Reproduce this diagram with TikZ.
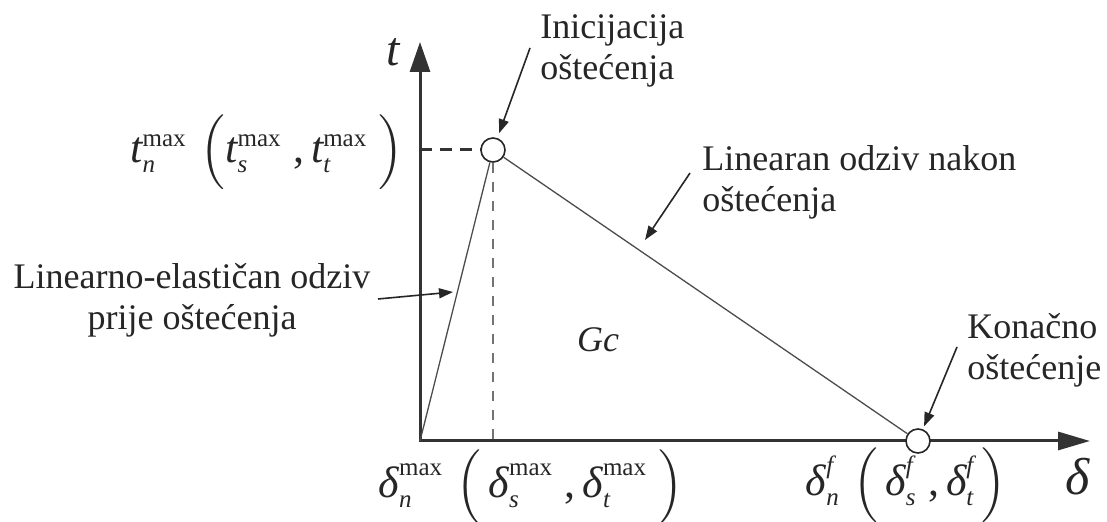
\documentclass[tikz,border=0pt]{standalone}
\usepackage{amsmath}
\usepackage{fontspec}
\setmainfont{Liberation Serif}
\usetikzlibrary{arrows.meta}
\DeclareMathSizes{22}{22}{12.5}{8}
\newcommand{\vi}[1]{\textit{#1}}
\newcommand{\tallstrut}{\vrule height 17pt depth 13pt width 0pt}
\begin{document}
\begin{tikzpicture}[x=0.5pt,y=-0.5pt,
  axis/.style={line width=1.5pt, draw=black!80, line join=miter,
    {Triangle[length=15pt,width=10pt]}-{Triangle[length=16pt,width=9pt]}},
  curve/.style={line width=0.65pt, draw=black!70},
  pt/.style={circle, draw=black!85, line width=0.8pt, fill=white, minimum size=12pt, inner sep=0pt},
  lbl/.style={font=\fontsize{18}{20.5}\selectfont, text=black!85, inner sep=0pt},
  mlbl/.style={font=\fontsize{22}{26}\selectfont, text=black!85, inner sep=0pt},
  note/.style={line width=0.8pt, draw=black!85, -{Triangle[length=7pt,width=5pt]}}
]
\useasboundingbox (0,0) rectangle (1107,522);
% axes
\coordinate (O) at (420,441);
\coordinate (xend) at (1090,441);
\coordinate (yend) at (420,42);
\draw[axis] (yend) -- (O) -- (xend);
% key points
\node[pt] (P) at (493,150) {};
\node[pt] (F) at (918,441) {};
\coordinate (ty) at (420,150);
\coordinate (tx) at (493,441);
\draw[line width=1.5pt, draw=black!80, dash pattern=on 6pt off 4pt] (ty) -- (P);
\draw[line width=0.65pt, draw=black!55, dash pattern=on 5pt off 4.5pt] (P) -- (tx);
\draw[curve] (O) -- (P);
\draw[curve] (P) -- (F);
% axis labels
\node[lbl, font=\fontsize{24}{28}\selectfont] (tax) at (394,52) {\vi{t}};
\node[lbl, font=\fontsize{26}{30}\selectfont] (dax) at (1078,477) {\vi{δ}};
\node[mlbl, anchor=east] (tl) at (404,152)
  {$\vi{t}_{\vi{n}}^{\text{max}}\,\left(\tallstrut\vi{t}_{\vi{s}}^{\text{max}}\;\text{,}\,\vi{t}_{\vi{t}}^{\text{max}}\;\right)$};
\node[mlbl] (dl) at (531,487)
  {$\vi{δ}_{\vi{n}}^{\text{max}}\,\left(\tallstrut\,\vi{δ}_{\vi{s}}^{\text{max}}\;\text{,}\,\vi{δ}_{\vi{t}}^{\text{max}}\;\right)$};
\node[mlbl] (fl) at (906,485)
  {$\vi{δ}_{\vi{n}}^{\vi{f}}\,\left(\tallstrut\,\vi{δ}_{\vi{s}}^{\vi{f}}\;\text{,}\,\vi{δ}_{\vi{t}}^{\vi{f}}\,\right)$};
\node[lbl] (gc) at (598,340) {\textit{Gc}};
% annotations
\node[lbl, align=left, anchor=west] (ini) at (540,51) {Inicijacija\\oštećenja};
\node[lbl, align=left, anchor=west] (lin) at (702,182) {Linearan odziv nakon\\oštećenja};
\node[lbl, align=center] (lel) at (192,300) {Linearno-elastičan odziv\\prije oštećenja};
\node[lbl, align=left, anchor=west] (kon) at (967,350) {Konačno\\oštećenje};
\coordinate (a1s) at (530,48);
\coordinate (a2s) at (690,173);
\coordinate (a2e) at (645,240);
\coordinate (a3s) at (378,299);
\coordinate (a3e) at (453,292);
\coordinate (a4s) at (957,347);
\draw[note, shorten >=2.5pt] (a1s) -- (P);
\draw[note] (a2s) -- (a2e);
\draw[note] (a3s) -- (a3e);
\draw[note, shorten >=1.5pt] (a4s) -- (F);
\end{tikzpicture}
\end{document}
